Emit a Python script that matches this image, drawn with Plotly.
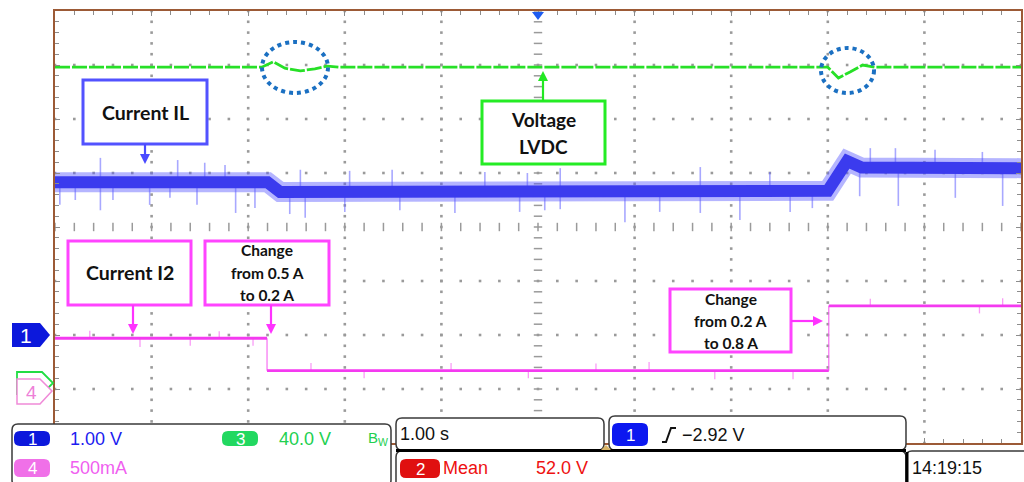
import numpy as np
import plotly.graph_objects as go

# ---------------- data (scope units: x = time [s], 1 s/div ; y = divisions) ----------------
# Channel 3 : LVDC voltage (green)
vdc_t = [-5.0, -2.86, -2.74, -2.62, -2.46, -2.31, -2.18, -2.05, 3.0, 3.11, 3.23, 3.36, 3.49, 5.0]
vdc_y = [2.96, 2.96, 3.06, 2.94, 2.89, 2.93, 2.98, 2.96, 2.96, 2.76, 2.87, 3.00, 2.96, 2.96]

# Channel 1 : inductor current IL (blue, noisy band centre)
il_t = [-5.0, -2.80, -2.67, 3.00, 3.20, 3.35, 5.0]
il_y = [0.83, 0.83, 0.65, 0.67, 1.22, 1.10, 1.09]
# spikes on IL
il_dn_t = [-4.95, -4.79, -4.53, -4.40, -4.02, -3.81, -3.53, -3.13, -2.93, -2.57, -2.41, -2.00,
           -1.43, -0.86, -0.19, 0.07, 0.23, 0.90, 1.26, 1.68, 2.09, 2.61, 2.84, 3.33, 3.73, 4.32, 4.81]
il_dn_y = [0.41, 0.50, 0.31, 0.50, 0.41, 0.54, 0.41, 0.26, 0.35, 0.24, 0.17, 0.28,
           0.31, 0.26, 0.28, 0.31, 0.33, 0.09, 0.28, 0.26, 0.13, 0.28, 0.35, 0.57, 0.39, 0.54, 0.39]
il_up_t = [-4.53, -3.73, -3.45, -3.24, -2.46, -1.95, -1.51, -0.55, -0.11, 0.23, 1.68, 2.40,
           3.44, 3.70, 4.11, 4.60]
il_up_y = [1.28, 1.24, 1.19, 1.15, 1.06, 1.04, 1.06, 1.02, 1.00, 1.09, 1.11, 1.02,
           1.46, 1.46, 1.43, 1.39]

# Channel 4 : current I2 (magenta), 500 mA/div
i2_edges_t = [-5.0, -2.805, 3.01, 5.0]
i2_level_a = [0.5, 0.2, 0.8]
ch4_offset_div = -3.06
ch4_scale_a = 0.5
i2_spk_t = [-4.64, -4.12, -3.60, -3.30, -2.95, -2.35, -1.80, -0.90, -0.10, 0.60, 1.15, 1.83, 2.64, 3.44, 4.57, 4.81]
i2_spk_y = [-1.92, -2.22, -2.20, -1.93, -2.20, -2.52, -2.80, -2.52, -2.80, -2.53, -2.50, -2.82, -2.82, -1.33, -1.60, -1.32]

# status read-outs
ch1_scale = "1.00 V"
ch3_scale = "40.0 V"
ch4_scale = "500mA"
timebase = "1.00 s"
meas_label = "Mean"
meas_value = "52.0 V"
trig_level = "\u22122.92 V"
clock = "14:19:15"

# callout labels
lbl_il = ["Current IL"]
lbl_vdc = ["Voltage", "LVDC"]
lbl_i2 = ["Current I2"]
lbl_chg1 = ["Change", "from 0.5 A", "to 0.2 A"]
lbl_chg2 = ["Change", "from 0.2 A", "to 0.8 A"]

# ---------------- layout helpers (pixel -> paper) ----------------
W, H = 1024, 482
L, R, T, B = 55, 1021, 11, 443


def fx(px):
    return (px - L) / (R - L)


def fy(py):
    return (B - py) / (B - T)


def P(x, y):
    return f"{fx(x):.5f},{fy(y):.5f}"


def rr_path(x0, y0, x1, y1, r):
    return (f"M{P(x0 + r, y0)} L{P(x1 - r, y0)} Q{P(x1, y0)} {P(x1, y0 + r)} "
            f"L{P(x1, y1 - r)} Q{P(x1, y1)} {P(x1 - r, y1)} L{P(x0 + r, y1)} "
            f"Q{P(x0, y1)} {P(x0, y1 - r)} L{P(x0, y0 + r)} Q{P(x0, y0)} {P(x0 + r, y0)} Z")


def poly_path(pts):
    return "M" + " L".join(P(x, y) for x, y in pts) + " Z"


BROWN = "#9c5a36"
GRID = "#9a9a9a"
GREEN = "#27e027"
BLUE = "#3b3bee"
MAG = "#f43af0"

fig = go.Figure()

# ---- graticule dots ----
minor = np.round(np.arange(-5, 5.0001, 0.2), 3)
minor_y = np.round(np.arange(-4, 4.0001, 0.2), 3)
gx, gy = [], []
for v in [-4, -3, -2, -1, 1, 2, 3, 4]:
    gx += [v] * len(minor_y)
    gy += list(minor_y)
for h in [-3, -2, -1, 1, 2, 3]:
    gx += list(minor)
    gy += [h] * len(minor)
fig.add_trace(go.Scatter(x=gx, y=gy, mode="markers", hoverinfo="skip",
                         marker=dict(symbol="square", size=2.6, color=GRID, line=dict(width=0))))
fig.add_trace(go.Scatter(x=[0] * len(minor_y), y=minor_y, mode="markers", hoverinfo="skip",
                         marker=dict(symbol="line-ew", size=6, line=dict(width=1.5, color=GRID))))
fig.add_trace(go.Scatter(x=minor, y=[0] * len(minor), mode="markers", hoverinfo="skip",
                         marker=dict(symbol="line-ns", size=6, line=dict(width=1.5, color=GRID))))

# ---- IL (blue) ----
sx, sy = [], []
for t, y in zip(il_dn_t + il_up_t, il_dn_y + il_up_y):
    base = float(np.interp(t, il_t, il_y))
    sx += [t, t, None]
    sy += [base, y, None]
fig.add_trace(go.Scatter(x=sx, y=sy, mode="lines", hoverinfo="skip",
                         line=dict(color="rgba(110,110,255,0.6)", width=1.6)))
fig.add_trace(go.Scatter(x=il_t, y=il_y, mode="lines", hoverinfo="skip",
                         line=dict(color="rgba(90,90,255,0.45)", width=20)))
fig.add_trace(go.Scatter(x=il_t, y=il_y, mode="lines", hoverinfo="skip",
                         line=dict(color=BLUE, width=12)))

# ---- LVDC (green) ----
fig.add_trace(go.Scatter(x=vdc_t, y=vdc_y, mode="lines", hoverinfo="skip",
                         line=dict(color=GREEN, width=2.8, dash="15px,2px")))

# ---- I2 (magenta) ----
i2_div = [ch4_offset_div + a / ch4_scale_a for a in i2_level_a]
hx, hy = [], []
for k, lvl in enumerate(i2_div):
    hx += [i2_edges_t[k], i2_edges_t[k + 1], None]
    hy += [lvl, lvl, None]
vx, vy = [], []
for k in range(1, len(i2_div)):
    vx += [i2_edges_t[k], i2_edges_t[k], None]
    vy += [i2_div[k - 1], i2_div[k], None]
px_, py_ = [], []
for t, y in zip(i2_spk_t, i2_spk_y):
    k = int(np.searchsorted(i2_edges_t, t)) - 1
    px_ += [t, t, None]
    py_ += [i2_div[k], y, None]
fig.add_trace(go.Scatter(x=px_, y=py_, mode="lines", hoverinfo="skip",
                         line=dict(color="rgba(245,90,240,0.6)", width=1.3)))
fig.add_trace(go.Scatter(x=vx, y=vy, mode="lines", hoverinfo="skip",
                         line=dict(color="rgba(245,90,240,0.8)", width=1.3)))
fig.add_trace(go.Scatter(x=hx, y=hy, mode="lines", hoverinfo="skip",
                         line=dict(color=MAG, width=2.8)))

shapes = []
ann = []

# trigger position marker
shapes.append(dict(type="path", xref="paper", yref="paper", layer="above",
                   path=poly_path([(532, 12), (544, 12), (538, 20)]),
                   fillcolor="#1e5cf0", line=dict(width=0)))

# dotted circles
for (x0, y0, x1, y1) in [(262, 42, 328, 93), (821, 48, 874, 93)]:
    shapes.append(dict(type="circle", xref="paper", yref="paper", layer="above",
                       x0=fx(x0), x1=fx(x1), y0=fy(y1), y1=fy(y0),
                       line=dict(color="#1b70c2", width=4, dash="4px,4px")))

# annotation boxes (box pixel rect, colour, lines, font size, line centres)
FONT = "Lato, Open Sans, DejaVu Sans"
boxes = [
    ((83, 80, 207, 144), "#5252ff", lbl_il, 19.5, [112]),
    ((482, 101, 605, 164), "#25ec25", lbl_vdc, 19, [120, 146]),
    ((68, 241, 191, 305), "#ff44ff", lbl_i2, 19.5, [273]),
    ((205, 241, 329, 305), "#ff44ff", lbl_chg1, 15.5, [250, 273, 295]),
    ((670, 289, 791, 352), "#ff44ff", lbl_chg2, 15.5, [299, 321, 343]),
]
for (x0, y0, x1, y1), col, lines, fs, ys in boxes:
    shapes.append(dict(type="rect", xref="paper", yref="paper", layer="above",
                       x0=fx(x0), x1=fx(x1), y0=fy(y1), y1=fy(y0),
                       fillcolor="white", line=dict(color=col, width=3)))
    for txt, yy in zip(lines, ys):
        ann.append(dict(x=fx((x0 + x1) / 2), y=fy(yy), xref="paper", yref="paper",
                        text=f"<b>{txt}</b>", showarrow=False, xanchor="center", yanchor="middle",
                        font=dict(family=FONT, size=fs, color="#111111")))

# arrows (head, tail) in pixels, drawn as shaft + filled head
arrows = [((145, 164), (145, 144), "#4a4aff"),
          ((543, 71), (543, 101), "#22e822"),
          ((133, 334), (133, 305), "#ff33ff"),
          ((271, 334), (271, 305), "#ff33ff"),
          ((823, 321), (791, 321), "#ff33ff")]
for (hx_, hy_), (tx_, ty_), col in arrows:
    dx, dy = hx_ - tx_, hy_ - ty_
    n = (dx * dx + dy * dy) ** 0.5
    ux, uy = dx / n, dy / n
    bx, by = hx_ - 10 * ux, hy_ - 10 * uy
    shapes.append(dict(type="line", xref="paper", yref="paper", layer="above",
                       x0=fx(tx_), y0=fy(ty_), x1=fx(bx + ux), y1=fy(by + uy),
                       line=dict(color=col, width=2.2)))
    shapes.append(dict(type="path", xref="paper", yref="paper", layer="above",
                       path=poly_path([(hx_, hy_), (bx - 5 * uy, by + 5 * ux), (bx + 5 * uy, by - 5 * ux)]),
                       fillcolor=col, line=dict(width=0)))

# left channel markers
shapes.append(dict(type="path", xref="paper", yref="paper", layer="above",
                   path=poly_path([(17, 372), (42, 372), (53, 383), (42, 394), (17, 394)]),
                   fillcolor="white", line=dict(color="#22dd44", width=1.8)))
shapes.append(dict(type="path", xref="paper", yref="paper", layer="above",
                   path=poly_path([(17, 379), (40, 379), (52, 391), (40, 404), (17, 404)]),
                   fillcolor="white", line=dict(color="#f08ad8", width=1.5)))
shapes.append(dict(type="path", xref="paper", yref="paper", layer="above",
                   path=poly_path([(12, 323), (40, 323), (50, 335), (40, 347), (12, 347)]),
                   fillcolor="#0c18dc", line=dict(width=0)))
ann.append(dict(x=fx(26), y=fy(335.5), xref="paper", yref="paper", text="1", showarrow=False,
                xanchor="center", yanchor="middle",
                font=dict(family="Liberation Sans", size=21, color="white")))
ann.append(dict(x=fx(31), y=fy(392), xref="paper", yref="paper", text="4", showarrow=False,
                xanchor="center", yanchor="middle",
                font=dict(family="Liberation Sans", size=19, color="#ee80d8")))

# ---------------- status bar ----------------
SB = "Liberation Sans Narrow, Arial Narrow, Liberation Sans"
BOX = "#3a3a3a"
for (x0, y0, x1, y1) in [(12, 424, 391, 486), (396, 418, 604, 450), (609, 416, 906, 450),
                         (396, 451, 906, 490), (906, 451, 1030, 490)]:
    shapes.append(dict(type="path", xref="paper", yref="paper", layer="above",
                       path=rr_path(x0, y0, x1, y1, 6), fillcolor="white",
                       line=dict(color=BOX, width=1.5)))
# thick separators
shapes.append(dict(type="line", xref="paper", yref="paper", layer="above",
                   x0=fx(396), x1=fx(906), y0=fy(450.5), y1=fy(450.5), line=dict(color="black", width=3)))
shapes.append(dict(type="line", xref="paper", yref="paper", layer="above",
                   x0=fx(907), x1=fx(907), y0=fy(452), y1=fy(482), line=dict(color="black", width=3)))
shapes.append(dict(type="path", xref="paper", yref="paper", layer="above",
                   path=poly_path([(601, 450), (611, 450), (606, 445)]),
                   fillcolor="#d8b466", line=dict(width=0)))

pills = [((14, 431, 50, 446), "#0c18dc", "1"),
         ((14, 459, 50, 477), "#f070e8", "4"),
         ((222, 431, 258, 446), "#22d860", "3"),
         ((400, 459, 440, 478), "#e01010", "2"),
         ((612, 423, 648, 446), "#0c18f0", "1")]
for (x0, y0, x1, y1), col, txt in pills:
    shapes.append(dict(type="path", xref="paper", yref="paper", layer="above",
                       path=rr_path(x0, y0, x1, y1, 6), fillcolor=col, line=dict(width=0)))
    ann.append(dict(x=fx((x0 + x1) / 2), y=fy((y0 + y1) / 2 + 0.5), xref="paper", yref="paper",
                    text=txt, showarrow=False, xanchor="center", yanchor="middle",
                    font=dict(family=SB, size=17, color="white")))

status_txt = [(68, 438.5, ch1_scale, "#1c1cf0", 18),
              (68, 467.5, ch4_scale, "#f060f0", 18),
              (277, 438.5, ch3_scale, "#22d050", 18),
              (366, 438.5, "B<sub>W</sub>", "#22d050", 15),
              (398, 434, timebase, "#111111", 18),
              (441, 468, meas_label, "#ee1111", 18),
              (534, 467.5, meas_value, "#ee1111", 18),
              (680, 434.5, trig_level, "#111111", 18),
              (910, 467.5, clock, "#111111", 18)]
for x, y, txt, col, fs in status_txt:
    ann.append(dict(x=fx(x), y=fy(y), xref="paper", yref="paper", text=txt, showarrow=False,
                    xanchor="left", yanchor="middle", font=dict(family=SB, size=fs, color=col)))

# trigger slope symbol
shapes.append(dict(type="path", xref="paper", yref="paper", layer="above",
                   path=f"M{P(662, 442)} L{P(666, 442)} L{P(671, 428)} L{P(676, 428)}",
                   line=dict(color="#111111", width=2)))

axis_common = dict(showgrid=False, zeroline=False, showticklabels=False, ticks="inside",
                   ticklen=5, tickcolor="#8c8c8c", tickwidth=1, showline=True,
                   linecolor=BROWN, linewidth=2, mirror="ticks", fixedrange=True,
                   tick0=0, dtick=1,
                   minor=dict(dtick=0.2, ticks="inside", ticklen=4, tickcolor="#8c8c8c",
                              showgrid=False))
fig.update_layout(
    width=W, height=H,
    margin=dict(l=L, r=W - R, t=T, b=H - B, autoexpand=False),
    paper_bgcolor="white", plot_bgcolor="white", showlegend=False,
    xaxis=dict(range=[-5, 5], **axis_common),
    yaxis=dict(range=[-4, 4], **axis_common),
    shapes=shapes, annotations=ann,
)

fig.write_html("out.html", config={"displayModeBar": False},
               post_script="document.body.style.margin='0';document.body.style.overflow='hidden';")
